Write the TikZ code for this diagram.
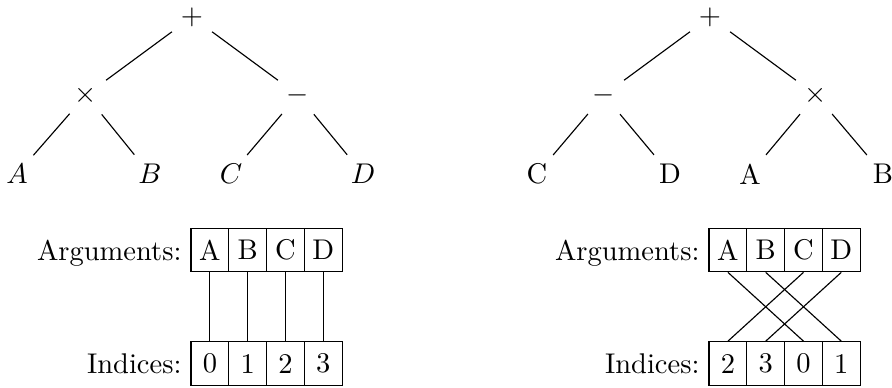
\documentclass[tikz,border=0pt]{standalone}
\begin{document}
\begin{tikzpicture}[x=0.012334cm,y=-0.012334cm,
  tn/.style={circle,inner sep=0pt,minimum size=0.6cm},
  cell/.style={draw,inner sep=0pt,minimum width=0.4662cm,minimum height=0.5365cm},
  lbl/.style={anchor=base east,inner sep=0pt}]
\useasboundingbox (0,0) rectangle (892,387);

% ---------- left tree ----------
\node[tn] (lp) at (192,17) {$+$};
\node[tn] (lm) at (86,95) {$\times$};
\node[tn] (ls) at (298,95) {$-$};
\node[tn] (lA) at (17,174) {$A$};
\node[tn] (lB) at (150,174) {$B$};
\node[tn] (lC) at (231,174) {$C$};
\node[tn] (lD) at (363,174) {$D$};
\draw (lp) -- (lm);
\draw (lp) -- (ls);
\draw (lm) -- (lA);
\draw (lm) -- (lB);
\draw (ls) -- (lC);
\draw (ls) -- (lD);

% ---------- right tree ----------
\node[tn] (rp) at (710,17) {$+$};
\node[tn] (rs) at (604,95) {$-$};
\node[tn] (rm) at (816,95) {$\times$};
\node[tn] (rC) at (537,174) {C};
\node[tn] (rD) at (670,174) {D};
\node[tn] (rA) at (750,174) {A};
\node[tn] (rB) at (883,174) {B};
\draw (rp) -- (rs);
\draw (rp) -- (rm);
\draw (rs) -- (rC);
\draw (rs) -- (rD);
\draw (rm) -- (rA);
\draw (rm) -- (rB);

% ---------- left arrays ----------
\node[lbl] (largs) at (182,260) {Arguments:};
\node[cell] (la1) at (209.9,250) {A};
\node[cell] (la2) at (247.7,250) {B};
\node[cell] (la3) at (285.5,250) {C};
\node[cell] (la4) at (323.3,250) {D};
\node[lbl] (lind) at (182,373) {Indices:};
\node[cell] (li1) at (209.9,363.5) {0};
\node[cell] (li2) at (247.7,363.5) {1};
\node[cell] (li3) at (285.5,363.5) {2};
\node[cell] (li4) at (323.3,363.5) {3};
\draw (la1.south) -- (li1.north);
\draw (la2.south) -- (li2.north);
\draw (la3.south) -- (li3.north);
\draw (la4.south) -- (li4.north);

% ---------- right arrays ----------
\node[lbl] (rargs) at (700,260) {Arguments:};
\node[cell] (ra1) at (727.9,250) {A};
\node[cell] (ra2) at (765.7,250) {B};
\node[cell] (ra3) at (803.5,250) {C};
\node[cell] (ra4) at (841.3,250) {D};
\node[lbl] (rind) at (700,373) {Indices:};
\node[cell] (ri1) at (727.9,363.5) {2};
\node[cell] (ri2) at (765.7,363.5) {3};
\node[cell] (ri3) at (803.5,363.5) {0};
\node[cell] (ri4) at (841.3,363.5) {1};
\draw (ra1.south) -- (ri3.north);
\draw (ra2.south) -- (ri4.north);
\draw (ra3.south) -- (ri1.north);
\draw (ra4.south) -- (ri2.north);
\end{tikzpicture}
\end{document}
